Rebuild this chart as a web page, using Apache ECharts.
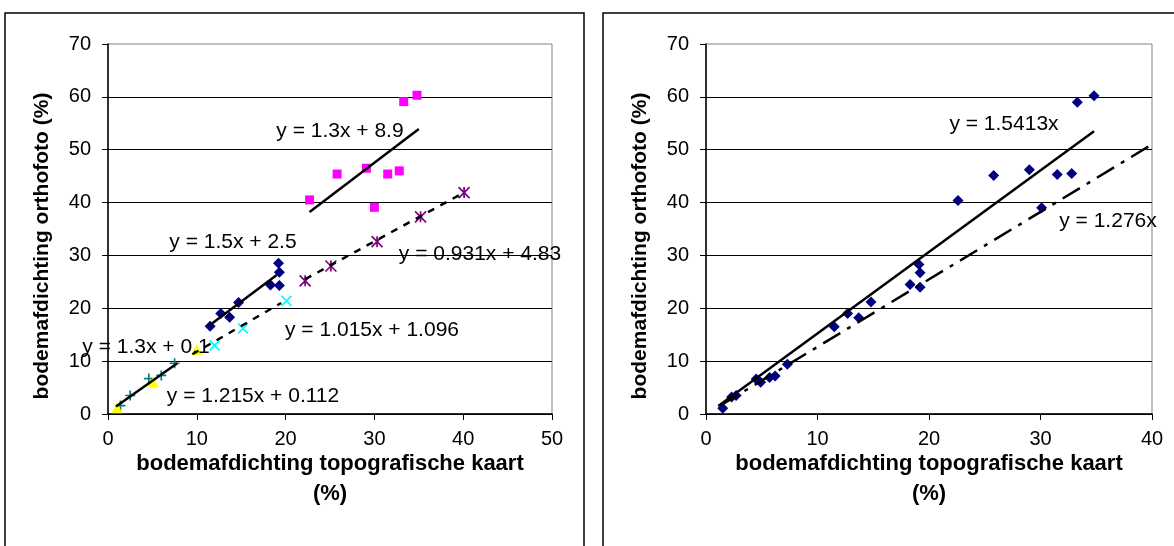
<!DOCTYPE html>
<html>
<head>
<meta charset="utf-8">
<script src="https://cdn.jsdelivr.net/npm/echarts@6/dist/echarts.min.js"></script>
<style>
  html, body { margin: 0; padding: 0; background: #fff; }
  #chart { width: 1174px; height: 546px; }
</style>
</head>
<body>
<div id="chart"></div>
<script>
// left chart: points per group [x, y]
var leftYellow = [[1.0, 1.2], [5.1, 6.1], [10.0, 12.2]];
var leftTeal = [[1.4, 1.6], [2.5, 3.5], [4.6, 6.7], [6.0, 7.3], [7.5, 9.6]];
var leftBlue = [[11.5, 16.6], [12.7, 19.0], [13.7, 18.3], [14.7, 21.1], [18.3, 24.4], [19.2, 28.5], [19.3, 26.8], [19.3, 24.3]];
var leftCyan = [[12.0, 13.0], [15.2, 16.2], [20.1, 21.4]];
var leftPink = [[22.7, 40.5], [25.8, 45.4], [29.1, 46.5], [30.0, 39.1], [31.5, 45.4], [32.8, 46.0], [33.3, 59.1], [34.8, 60.3]];
var leftPurple = [[22.2, 25.2], [25.1, 28.0], [30.3, 32.6], [35.2, 37.3], [40.1, 41.9]];

// left chart trend lines (end points as drawn)
var trendTeal = [[0.9, 1.4], [7.8, 9.6]];
var trendBlue = [[11.3, 16.6], [19.0, 26.3]];
var trendCyan = [[9.5, 11.3], [19.5, 21.0]];
var trendPink = [[22.7, 38.2], [35.0, 53.9]];
var trendPurple = [[22.2, 25.5], [40.2, 42.0]];

// right chart: all points
var rightPoints = [
  [1.5, 1.1], [2.3, 3.2], [2.7, 3.5], [4.5, 6.6], [4.9, 6.0], [5.7, 6.9], [6.2, 7.2], [7.3, 9.4],
  [11.5, 16.5], [12.7, 19.0], [13.7, 18.2], [14.8, 21.2], [18.3, 24.5], [19.1, 28.3], [19.2, 26.7], [19.2, 24.0],
  [22.6, 40.4], [25.8, 45.1], [29.0, 46.2], [30.1, 39.0], [31.5, 45.3], [32.8, 45.5], [33.3, 59.0], [34.8, 60.2]
];
var trendRightSolid = [[1.1, 1.5], [34.8, 53.5]];
var trendRightDashDot = [[1.3, 1.6], [40, 51.0]];

var yTicks = [0, 70, 10];      // min, max, interval
var xTicksLeft = [0, 50, 10];
var xTicksRight = [0, 40, 10];

// equation labels: text, center x, center y
var leftLabels = [
  ['y = 1.3x + 8.9', 340, 131],
  ['y = 1.5x + 2.5', 233, 242],
  ['y = 0.931x + 4.83', 480, 254],
  ['y = 1.015x + 1.096', 372, 330],
  ['y = 1.3x + 0.1', 146, 347],
  ['y = 1.215x + 0.112', 253, 396]
];
var rightLabels = [
  ['y = 1.5413x', 1004, 124],
  ['y = 1.276x', 1108, 221]
];

var FONT = '"Liberation Sans", Arial, sans-serif';

function xAxisCfg(idx, t) {
  return {
    type: 'value', gridIndex: idx, min: t[0], max: t[1], interval: t[2],
    axisLine: { show: true, onZero: false, lineStyle: { color: '#000', width: 1.5 } },
    axisTick: { show: true, inside: false, length: 6, lineStyle: { color: '#000' } },
    axisLabel: { color: '#000', fontSize: 20, fontFamily: FONT, margin: 15 },
    splitLine: { show: false }
  };
}
function yAxisCfg(idx, t) {
  return {
    type: 'value', gridIndex: idx, min: t[0], max: t[1], interval: t[2],
    axisLine: { show: true, onZero: false, lineStyle: { color: '#000', width: 1.5 } },
    axisTick: { show: true, inside: false, length: 6, lineStyle: { color: '#000' } },
    axisLabel: { color: '#000', fontSize: 20, fontFamily: FONT, margin: 17 },
    splitLine: { show: true, showMaxLine: false, lineStyle: { color: '#000', width: 1 } }
  };
}

function pts(data, xi, symbol, size, color, stroke) {
  var s = {
    type: 'scatter', xAxisIndex: xi, yAxisIndex: xi, data: data,
    symbol: symbol, symbolSize: size, z: 2,
    itemStyle: { color: color, opacity: 1 }
  };
  if (stroke) {
    s.itemStyle = { color: 'rgba(0,0,0,0)', borderColor: color, borderWidth: 1.7, opacity: 1 };
  }
  return s;
}
function trend(data, xi, type, width) {
  return {
    type: 'line', xAxisIndex: xi, yAxisIndex: xi, data: data,
    symbol: 'none', z: 3, silent: true,
    lineStyle: { color: '#000', width: width || 2.5, type: type || 'solid' }
  };
}

var PLUS = 'path://M0,5L10,5M5,0L5,10';
var CROSS = 'path://M0,0L10,10M10,0L0,10';
var STAR = 'path://M0,0L10,10M10,0L0,10M5,0L5,10';

var graphics = [
  { type: 'rect', shape: { x: 5, y: 13, width: 579, height: 560 }, style: { fill: 'none', stroke: '#000', lineWidth: 1.5 }, z: 0 },
  { type: 'rect', shape: { x: 603, y: 13, width: 620, height: 560 }, style: { fill: 'none', stroke: '#000', lineWidth: 1.5 }, z: 0 }
];
function title(text, x, y, size, rot) {
  graphics.push({
    type: 'text', x: x, y: y, rotation: rot || 0, z: 10,
    style: { text: text, fill: '#000', font: 'bold ' + size + 'px ' + FONT, align: 'center', verticalAlign: 'middle' }
  });
}
title('bodemafdichting orthofoto (%)', 42, 246, 21, Math.PI / 2);
title('bodemafdichting topografische kaart', 330, 464, 22);
title('(%)', 330, 494, 22);
title('bodemafdichting orthofoto (%)', 640, 246, 21, Math.PI / 2);
title('bodemafdichting topografische kaart', 929, 464, 22);
title('(%)', 929, 494, 22);
leftLabels.concat(rightLabels).forEach(function (l) {
  graphics.push({
    type: 'text', x: l[1], y: l[2], z: 10,
    style: { text: l[0], fill: '#000', font: '21px ' + FONT, align: 'center', verticalAlign: 'middle' }
  });
});

var chart = echarts.init(document.getElementById('chart'));
chart.setOption({
  animation: false,
  backgroundColor: '#fff',
  grid: [
    { left: 108, top: 44, width: 444, height: 370, show: true, borderColor: '#808080', borderWidth: 1 },
    { left: 706, top: 44, width: 446, height: 370, show: true, borderColor: '#808080', borderWidth: 1 }
  ],
  xAxis: [xAxisCfg(0, xTicksLeft), xAxisCfg(1, xTicksRight)],
  yAxis: [yAxisCfg(0, yTicks), yAxisCfg(1, yTicks)],
  series: [
    pts(leftTeal, 0, PLUS, 10, '#008080', true),
    pts(leftYellow, 0, 'triangle', 11, '#FFFF00'),
    pts(leftBlue, 0, 'diamond', 11, '#000080'),
    pts(leftCyan, 0, CROSS, 10, '#00FFFF', true),
    pts(leftPink, 0, 'rect', 9, '#FF00FF'),
    pts(leftPurple, 0, STAR, 11, '#800080', true),
    trend(trendTeal, 0),
    trend(trendBlue, 0),
    trend(trendCyan, 0, [7, 7]),
    trend(trendPink, 0),
    trend(trendPurple, 0, [7, 7]),
    pts(rightPoints, 1, 'diamond', 11, '#000080'),
    trend(trendRightSolid, 1),
    trend(trendRightDashDot, 1, [20, 8, 4, 8])
  ],
  graphic: graphics
});
</script>
</body>
</html>
